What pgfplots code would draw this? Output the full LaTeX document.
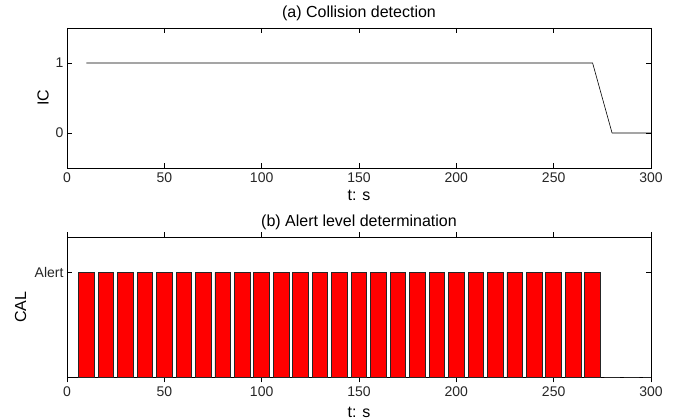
\documentclass[border=0pt]{standalone}
\usepackage{fontspec}
\setmainfont{Liberation Sans}
\usepackage{pgfplots}
\pgfplotsset{compat=1.18}
\begin{document}
\begin{tikzpicture}
\useasboundingbox (0pt,0pt) rectangle (677pt,420pt);
\pgfplotsset{
 every axis/.append style={
  scale only axis, width=584pt, height=140pt,
  xmin=0, xmax=300, xtick={0,50,...,300},
  tick align=inside, major tick length=5pt,
  axis line style={line width=0.6pt},
  every tick/.style={black, line width=0.6pt},
  /pgf/number format/assume math mode=true,
  ticklabel style={font=\fontsize{14}{14}\selectfont, text=black!85},
  label style={font=\fontsize{16}{16}\selectfont},
  title style={font=\fontsize{16}{16}\selectfont, at={(0.5,1)}, anchor=base, yshift=4.5pt},
  xticklabel style={yshift=-1pt},
 }
}
% (a)
\begin{axis}[at={(67pt,252pt)}, anchor=south west,
  ymin=-0.5, ymax=1.5, ytick={0,1},
  title={(a) Collision detection},
  xlabel={t: s}, xlabel style={at={(axis description cs:0.5,0)}, anchor=base, yshift=-32.5pt},
  ylabel={IC}, ylabel style={at={(axis description cs:0,0.5)}, anchor=center, yshift=24pt},
]
\addplot[black, line width=0.6pt] coordinates {
(10,1) (20,1) (30,1) (40,1) (50,1) (60,1) (70,1) (80,1) (90,1) (100,1)
(110,1) (120,1) (130,1) (140,1) (150,1) (160,1) (170,1) (180,1) (190,1) (200,1)
(210,1) (220,1) (230,1) (240,1) (250,1) (260,1) (270,1) (280,0) (290,0) (300,0)};
\end{axis}
% (b)
\begin{axis}[at={(67pt,42.7pt)}, anchor=south west,
  ymin=0, ymax=1.3333, ytick={1}, yticklabels={Alert},
  title={(b) Alert level determination},
  xlabel={t: s}, xlabel style={at={(axis description cs:0.5,0)}, anchor=base, yshift=-40.5pt},
  ylabel={CAL}, ylabel style={at={(axis description cs:0,0.5)}, anchor=center, yshift=46.5pt},
  ybar, bar width=8, bar shift=0pt,
]
\addplot[fill=red, draw=black!85, line width=0.8pt] coordinates {
(10,1) (20,1) (30,1) (40,1) (50,1) (60,1) (70,1) (80,1) (90,1) (100,1)
(110,1) (120,1) (130,1) (140,1) (150,1) (160,1) (170,1) (180,1) (190,1) (200,1)
(210,1) (220,1) (230,1) (240,1) (250,1) (260,1) (270,1) (280,0) (290,0) (300,0)};
\end{axis}
\end{tikzpicture}
\end{document}
